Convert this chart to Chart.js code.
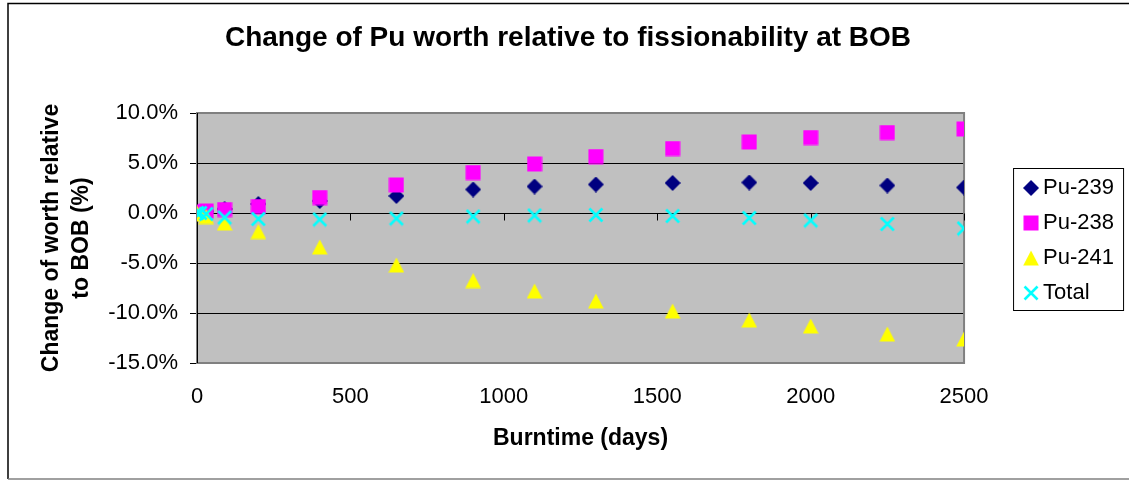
<!DOCTYPE html>
<html>
<head>
<meta charset="utf-8">
<script src="https://cdn.jsdelivr.net/npm/chart.js@4/dist/chart.umd.min.js"></script>
<style>
  html, body { margin: 0; padding: 0; background: #fff; }
  #wrap { width: 1129px; height: 481px; }
</style>
</head>
<body>
<div id="wrap"><canvas id="chart" width="1129" height="481"></canvas></div>
<script>
// Burntime in days and change of worth (%) for each isotope
const days = [0, 10, 30, 90, 200, 400, 650, 900, 1100, 1300, 1550, 1800, 2000, 2250, 2500];
const pu239 = [0, 0.05, 0.15, 0.4, 0.9, 1.2, 1.7, 2.35, 2.65, 2.85, 3.0, 3.05, 3.0, 2.75, 2.55];
const pu238 = [0, 0.1, 0.2, 0.35, 0.65, 1.55, 2.8, 4.05, 4.9, 5.65, 6.45, 7.1, 7.55, 8.05, 8.4];
const pu241 = [0, -0.1, -0.35, -1.0, -1.85, -3.4, -5.2, -6.75, -7.8, -8.8, -9.8, -10.7, -11.3, -12.1, -12.6];
const total = [0, 0, -0.1, -0.45, -0.6, -0.65, -0.55, -0.35, -0.25, -0.2, -0.3, -0.5, -0.75, -1.1, -1.55];
const seriesNames = ['Pu-239', 'Pu-238', 'Pu-241', 'Total'];

const FONT = "'Liberation Sans', Arial, sans-serif";

// Build an Excel-like marker on a small canvas
function makeMarker(shape, color) {
  const c = document.createElement('canvas');
  c.width = 16; c.height = 16;
  const g = c.getContext('2d');
  g.fillStyle = color;
  g.strokeStyle = color;
  g.beginPath();
  if (shape === 'diamond') {
    g.moveTo(8, 0); g.lineTo(16, 8); g.lineTo(8, 16); g.lineTo(0, 8);
    g.closePath(); g.fill();
  } else if (shape === 'square') {
    g.fillRect(0.5, 0.5, 15, 15);
  } else if (shape === 'triangle') {
    g.moveTo(8, 0.5); g.lineTo(15.8, 15.5); g.lineTo(0.2, 15.5);
    g.closePath(); g.fill();
  } else {
    g.lineWidth = 2.5;
    g.moveTo(1.5, 1.5); g.lineTo(14.5, 14.5);
    g.moveTo(14.5, 1.5); g.lineTo(1.5, 14.5);
    g.stroke();
  }
  return c;
}

const toPoints = (vals) => vals.map((v, i) => ({x: days[i], y: v}));

// Plot background, borders and the zero-axis tick marks
const excelFrame = {
  id: 'excelFrame',
  beforeDraw(chart) {
    const {ctx, chartArea: {left, top, right, bottom}} = chart;
    ctx.save();
    ctx.fillStyle = '#fff';
    ctx.fillRect(0, 0, chart.width, chart.height);
    ctx.fillStyle = '#C0C0C0';
    ctx.fillRect(left, top, right - left, bottom - top);
    ctx.restore();
  },
  beforeDatasetsDraw(chart) {
    const {ctx, chartArea: {left, top, right, bottom}, scales: {x, y}} = chart;
    ctx.save();
    ctx.strokeStyle = '#808080';
    ctx.lineWidth = 2;
    ctx.strokeRect(left, top, right - left, bottom - top);
    ctx.strokeStyle = '#000';
    ctx.lineWidth = 1;
    ctx.beginPath();
    ctx.moveTo(left + 0.5, top);
    ctx.lineTo(left + 0.5, bottom);
    // tick marks hanging from the 0% axis line
    const zeroY = Math.round(y.getPixelForValue(0)) + 0.5;
    x.ticks.forEach(t => {
      const px = Math.round(x.getPixelForValue(t.value)) + 0.5;
      ctx.moveTo(px, zeroY);
      ctx.lineTo(px, zeroY + 7);
    });
    ctx.stroke();
    ctx.restore();
  },
  afterDraw(chart) {
    const {ctx, legend} = chart;
    ctx.save();
    // legend frame
    const boxes = legend.legendHitBoxes;
    if (boxes && boxes.length) {
      const first = boxes[0], last = boxes[boxes.length - 1];
      ctx.strokeStyle = '#000';
      ctx.lineWidth = 1;
      ctx.strokeRect(legend.left - 3.5, first.top - 8.5, 110, last.top + last.height - first.top + 15);
    }
    // outer chart frame
    ctx.beginPath();
    ctx.strokeStyle = '#000';
    ctx.lineWidth = 1.5;
    ctx.moveTo(8, chart.height - 2);
    ctx.lineTo(8, 3.5);
    ctx.lineTo(chart.width, 3.5);
    ctx.stroke();
    ctx.beginPath();
    ctx.strokeStyle = '#808080';
    ctx.moveTo(8, chart.height - 2);
    ctx.lineTo(chart.width, chart.height - 2);
    ctx.stroke();
    ctx.restore();
  }
};

const datasets = [
  {label: seriesNames[0], data: toPoints(pu239), pointStyle: makeMarker('diamond', '#000080'), order: 4},
  {label: seriesNames[1], data: toPoints(pu238), pointStyle: makeMarker('square', '#FF00FF'), order: 3},
  {label: seriesNames[2], data: toPoints(pu241), pointStyle: makeMarker('triangle', '#FFFF00'), order: 2},
  {label: seriesNames[3], data: toPoints(total), pointStyle: makeMarker('cross', '#00FFFF'), order: 1},
];

const chart = new Chart(document.getElementById('chart'), {
  type: 'scatter',
  data: {datasets: datasets},
  plugins: [excelFrame],
  options: {
    responsive: false,
    animation: false,
    layout: {padding: {left: 12, right: 5, top: 0, bottom: 0}},
    plugins: {
      title: {
        display: true,
        text: 'Change of Pu worth relative to fissionability at BOB',
        color: '#000',
        font: {family: FONT, size: 28, weight: 'bold'},
        padding: {top: 21, bottom: 58.4}
      },
      legend: {
        position: 'right',
        reverse: true,
        labels: {
          usePointStyle: true,
          boxWidth: 2,
          padding: 13,
          color: '#000',
          font: {family: FONT, size: 22}
        }
      },
      tooltip: {enabled: true}
    },
    scales: {
      x: {
        type: 'linear',
        min: 0,
        max: 2500,
        grid: {display: false, drawTicks: false},
        border: {display: false},
        ticks: {
          stepSize: 500,
          padding: 21,
          color: '#000',
          font: {family: FONT, size: 22},
          callback: (v) => String(v)
        },
        title: {
          display: true,
          text: 'Burntime (days)',
          color: '#000',
          font: {family: FONT, size: 23, weight: 'bold'},
          padding: {top: 0, bottom: 29}
        },
        afterFit: (s) => { s.height = 118; }
      },
      y: {
        min: -15,
        max: 10,
        grid: {color: '#000', lineWidth: 1, tickLength: 7},
        border: {color: '#000'},
        ticks: {
          stepSize: 5,
          padding: 12,
          color: '#000',
          font: {family: FONT, size: 22},
          callback: (v) => v.toFixed(1) + '%'
        },
        title: {
          display: true,
          text: ['Change of worth relative', 'to BOB (%)'],
          color: '#000',
          font: {family: FONT, size: 23, weight: 'bold', lineHeight: 1.3},
          padding: {top: 25, bottom: 0}
        },
        afterFit: (s) => { s.width = 185; }
      },
      // empty right axis that keeps the gap between plot and legend
      spacer: {
        type: 'linear',
        position: 'right',
        display: true,
        grid: {display: false, drawTicks: false},
        border: {display: false},
        ticks: {display: false},
        afterFit: (s) => { s.width = 53; }
      }
    }
  }
});
</script>
</body>
</html>
